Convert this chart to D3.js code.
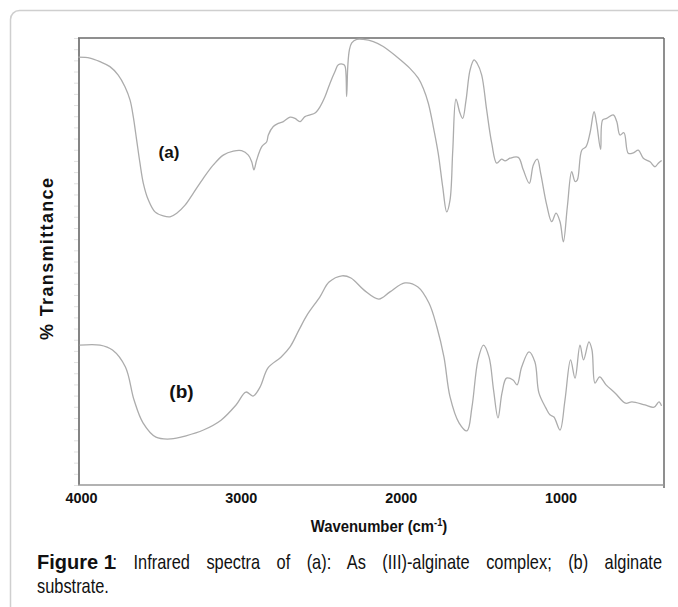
<!DOCTYPE html>
<html>
<head>
<meta charset="utf-8">
<script src="https://cdn.jsdelivr.net/npm/d3@7"></script>
<style>
  html, body { margin: 0; padding: 0; background: #fff; }
  svg { display: block; }
</style>
</head>
<body>
<script>
// ---- Data ----
const xTickValues = [4000, 3000, 2000, 1000];

// (a) As(III)-alginate complex
const wavenumberA = [4017,3944,3881,3819,3767,3725,3693,3673,3652,3631,3610,3579,3537,3485,3443,3401,3349,3297,3235,3172,3110,3047,2995,2953,2932,2918,2901,2869,2838,2828,2797,2766,2734,2692,2661,2630,2599,2567,2536,2505,2473,2442,2411,2390,2359,2348,2338,2331,2321,2306,2275,2234,2171,2109,2025,1942,1890,1858,1827,1796,1765,1737,1712,1691,1674,1654,1629,1612,1591,1566,1541,1521,1493,1462,1430,1399,1368,1347,1316,1264,1233,1195,1170,1145,1124,1086,1055,1028,1003,982,957,930,909,895,867,840,815,790,774,749,736,711,670,648,628,603,576,544,513,482,440,409,388,367];
const transmittanceA = [95.7,95.5,94.7,93.6,91.7,89.1,86.1,82.4,77.2,72.0,67.5,63.8,61.1,60.2,60.0,60.8,62.6,65.3,68.6,71.6,73.8,74.7,74.8,73.8,72.3,70.5,72.7,75.7,76.8,78.3,80.2,80.9,81.3,82.3,82.0,81.3,82.4,82.8,83.2,84.6,86.9,89.9,92.5,94.0,94.1,93.7,86.9,93.6,97.3,98.9,99.7,99.7,99.2,98.1,95.8,93.2,91.0,88.7,85.4,80.2,74.2,66.7,61.1,63.8,74.9,86.3,83.2,82.0,86.1,92.8,95.1,94.3,91.7,83.9,76.4,72.0,72.9,72.5,73.1,73.3,70.5,67.5,71.6,72.9,69.7,62.6,58.9,60.8,58.9,54.4,62.3,70.1,67.9,68.2,74.9,75.7,78.8,83.5,80.9,75.1,81.7,82.0,82.8,81.3,78.3,78.8,74.2,74.3,74.9,73.1,72.3,71.2,72.0,72.6];

// (b) alginate substrate
const wavenumberB = [4009,3881,3803,3722,3668,3612,3531,3437,3343,3234,3124,3030,2968,2924,2880,2830,2749,2692,2636,2586,2505,2448,2367,2311,2229,2136,2067,1973,1892,1823,1773,1729,1691,1635,1585,1554,1516,1482,1447,1419,1391,1366,1338,1297,1272,1243,1197,1160,1135,1091,1066,1041,1003,972,937,909,878,856,822,803,784,755,715,659,593,553,471,415,384,368];
const transmittanceB = [31.3,31.3,30.2,26.4,19.0,13.9,10.7,10.3,11.0,12.3,14.5,17.9,20.8,19.9,21.9,26.2,28.6,30.9,34.7,38.0,42.1,45.4,46.8,46.3,43.6,41.6,43.2,45.2,44.3,40.7,35.3,28.6,19.7,13.9,12.1,17.4,28.0,31.3,28.6,21.3,15.0,20.6,23.9,23.5,22.4,26.4,29.8,27.5,20.6,17.2,15.7,15.2,12.3,19.0,28.0,23.9,31.3,28.0,32.0,30.2,22.8,24.2,22.4,20.6,18.3,18.6,17.9,17.4,18.6,17.7];

const seriesLabels = ["(a)", "(b)"];
const xTitle = "Wavenumber (cm";
const xTitleSup = "-1";
const yTitle = "% Transmittance";
const captionBold = "Figure 1";
const captionLine1 = ": Infrared spectra of (a): As (III)-alginate complex; (b) alginate";
const captionLine2 = "substrate.";

// ---- Layout ----
const W = 678, H = 607;
const plot = { left: 78, right: 664, top: 38, bottom: 485 };

const svg = d3.select("body").append("svg")
  .attr("width", W).attr("height", H)
  .style("font-family", "'Liberation Sans', Arial, sans-serif");

// card
svg.append("rect")
  .attr("x", 10.5).attr("y", 10.5).attr("width", 800).attr("height", 800)
  .attr("rx", 9).attr("fill", "none").attr("stroke", "#cfcfcf").attr("stroke-width", 1.5);

const x = d3.scaleLinear().domain([4000, 1000]).range([81, 560.5]);
const y = d3.scaleLinear().domain([0, 100]).range([plot.bottom, plot.top]);

// faint minor ticks on left
const yMinor = svg.append("g")
  .attr("transform", `translate(${plot.left},0)`)
  .call(d3.axisLeft(y).tickValues(d3.range(0, 100.1, 2.5)).tickSize(4).tickFormat(""));
yMinor.select(".domain").remove();
yMinor.selectAll("line").attr("stroke", "#e2e2e2");

// frame
svg.append("line").attr("x1", plot.left).attr("x2", plot.right)
  .attr("y1", plot.top).attr("y2", plot.top)
  .attr("stroke", "#6a6a6a").attr("stroke-width", 1.5);
svg.append("line").attr("x1", plot.right).attr("x2", plot.right)
  .attr("y1", plot.top).attr("y2", plot.bottom + 3)
  .attr("stroke", "#6a6a6a").attr("stroke-width", 1.5);
svg.append("line").attr("x1", plot.left + 1).attr("x2", plot.left + 1)
  .attr("y1", plot.top).attr("y2", plot.bottom)
  .attr("stroke", "#777").attr("stroke-width", 1.8);

// bottom axis
const xAxis = svg.append("g")
  .attr("transform", `translate(0,${plot.bottom})`)
  .call(d3.axisBottom(x).tickValues(xTickValues).tickSize(0).tickPadding(7).tickFormat(d3.format("d")));
xAxis.select(".domain").attr("d", `M${plot.left},0H${plot.right}`).attr("stroke", "#999").attr("stroke-width", 1.3);
xAxis.selectAll("text")
  .attr("fill", "#111")
  .style("font-size", "15.5px").style("font-weight", "bold")
  .attr("transform", "scale(0.93,1)");

// lines
const line = d3.line()
  .x(d => x(d[0])).y(d => y(d[1]))
  .curve(d3.curveCatmullRom.alpha(0.5));

const dataA = wavenumberA.map((w, i) => [w, transmittanceA[i]]);
const dataB = wavenumberB.map((w, i) => [w, transmittanceB[i]]);

svg.append("path").datum(dataA).attr("d", line)
  .attr("fill", "none").attr("stroke", "#acacac").attr("stroke-width", 1.3);
svg.append("path").datum(dataB).attr("d", line)
  .attr("fill", "none").attr("stroke", "#acacac").attr("stroke-width", 1.3);

// series labels
svg.append("text").attr("x", 169).attr("y", 158).attr("text-anchor", "middle")
  .style("font-size", "17px").style("font-weight", "bold").attr("fill", "#111")
  .text(seriesLabels[0]);
svg.append("text").attr("x", 181.5).attr("y", 397.5).attr("text-anchor", "middle")
  .style("font-size", "19px").style("font-weight", "bold").attr("fill", "#111")
  .text(seriesLabels[1]);

// x title
const xt = svg.append("g").attr("transform", "translate(379,531.5) scale(0.93,1)")
  .append("text").attr("text-anchor", "middle")
  .style("font-size", "16px").style("font-weight", "bold").attr("fill", "#111");
xt.append("tspan").text(xTitle);
xt.append("tspan").attr("dy", -6).style("font-size", "10px").text(xTitleSup);
xt.append("tspan").attr("dy", 6).text(")");

// y title
svg.append("text")
  .attr("transform", "translate(53,259) rotate(-90)")
  .attr("text-anchor", "middle")
  .attr("textLength", 162).attr("lengthAdjust", "spacing")
  .style("font-size", "18px").style("font-weight", "bold").attr("fill", "#111")
  .text(yTitle);

// caption
svg.append("text").attr("x", 37).attr("y", 569)
  .style("font-size", "20px").style("font-weight", "bold").attr("fill", "#111")
  .text(captionBold);
const capScale = 0.82;
const capStart = 112.5, capEnd = 662;
const cap1 = svg.append("g").attr("transform", `translate(${capStart},569) scale(${capScale},1)`)
  .append("text").style("font-size", "20px").attr("fill", "#111").text(captionLine1);
const natural = cap1.node().getComputedTextLength();
const nSpaces = (captionLine1.match(/ /g) || []).length;
const target = (capEnd - capStart) / capScale;
cap1.style("word-spacing", ((target - natural) / nSpaces) + "px");
svg.append("g").attr("transform", `translate(37,593) scale(${capScale},1)`)
  .append("text").style("font-size", "20px").attr("fill", "#111").text(captionLine2);
</script>
</body>
</html>
